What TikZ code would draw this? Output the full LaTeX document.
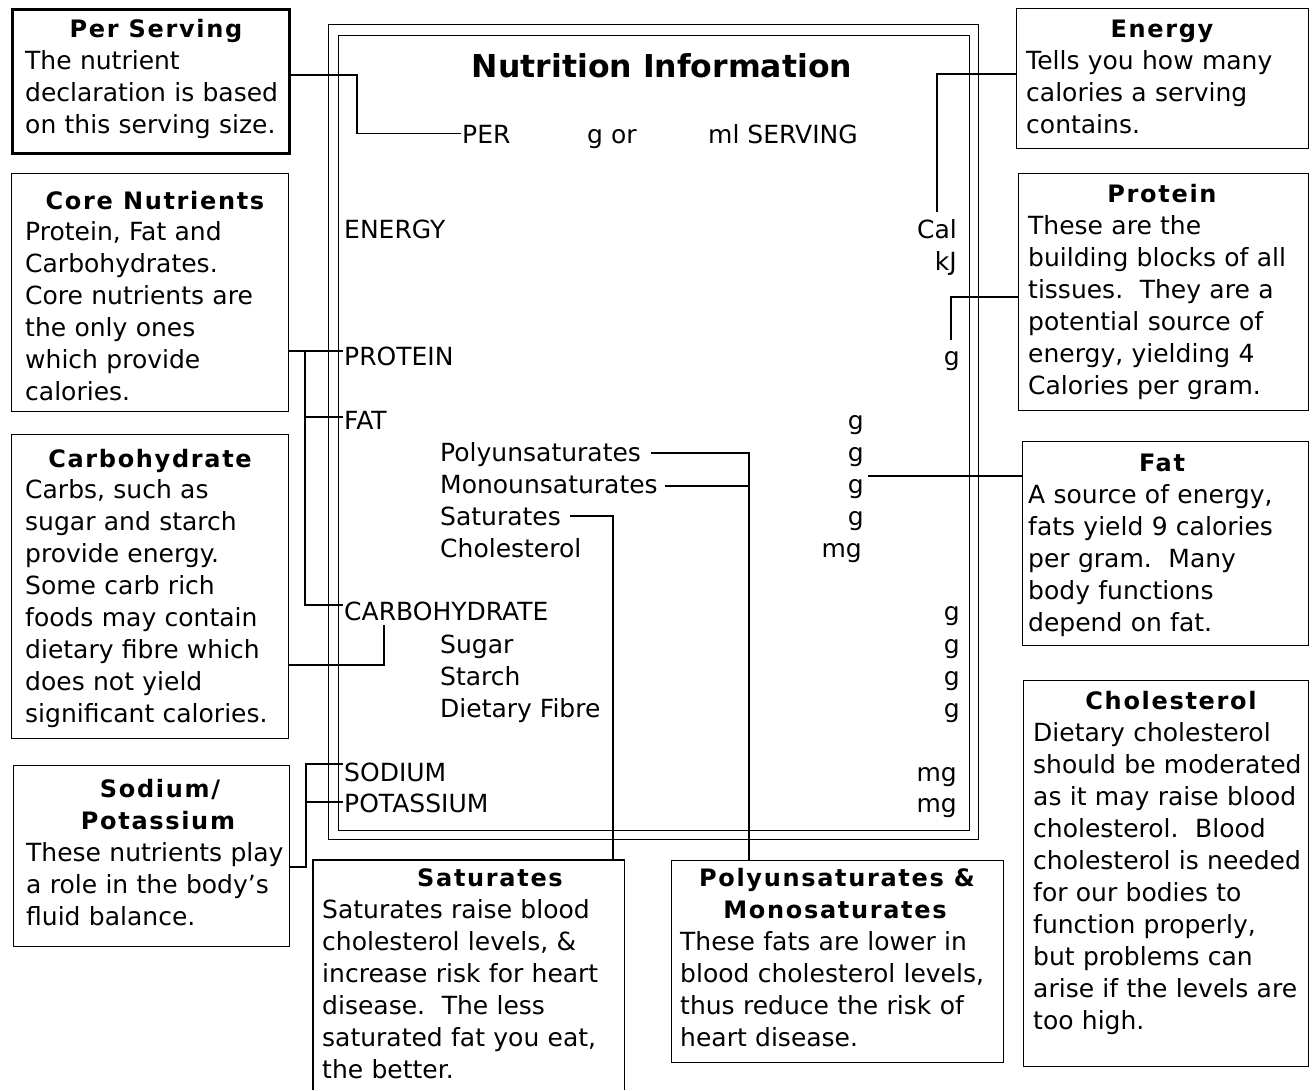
\documentclass[tikz,border=0pt]{standalone}
\usepackage{fontspec}
\setmainfont{DejaVu Sans}
\newfontfamily\headfont[LetterSpace=7]{DejaVu Sans Bold}
\newfontfamily\titlefont{DejaVu Sans Bold}
\begin{document}
\begin{tikzpicture}[x=1pt,y=-1pt,
  box/.style={draw, line width=1.3pt, inner sep=0pt, anchor=north west},
  body/.style={anchor=base west, inner sep=0pt, text width=420pt, align=left, font=\fontsize{25}{32}\selectfont},
  head/.style={anchor=base, inner sep=0pt, font=\headfont\fontsize{24}{32}\selectfont},
  lbl/.style={anchor=base west, inner sep=0pt, font=\fontsize{25}{32}\selectfont},
  val/.style={anchor=base east, inner sep=0pt, font=\fontsize{25}{32}\selectfont},
  conn/.style={line width=1.1pt},
  frame/.style={draw, line width=1.4pt, inner sep=0pt, anchor=north west}]
\useasboundingbox (0,0) rectangle (1314,1090);

% central panel
\node[frame, minimum width=650.5pt, minimum height=815pt] (outer) at (327.5,24) {};
\node[frame, minimum width=631pt, minimum height=795pt] (inner) at (337.5,34.5) {};
\node[anchor=base, inner sep=0pt, font=\titlefont\fontsize{31.5}{36}\selectfont] (title) at (662,77) {Nutrition Information};

\node[lbl] (per) at (462,143) {PER};
\node[lbl] (gor) at (587,143) {g or};
\node[lbl] (ml) at (708,143) {ml SERVING};
\node[lbl] (energy) at (344,238) {ENERGY};
\node[val] (cal) at (957,238) {Cal};
\node[val] (kj) at (957,270) {kJ};
\node[lbl] (protein) at (344,365) {PROTEIN};
\node[val] (pg) at (960,365) {g};
\node[lbl] (fat) at (344,429) {FAT};
\node[val] (fg) at (864,429) {g};
\node[lbl] (poly) at (440,461) {Polyunsaturates};
\node[val] (polyg) at (864,461) {g};
\node[lbl] (mono) at (440,493) {Monounsaturates};
\node[val] (monog) at (864,493) {g};
\node[lbl] (sat) at (440,525) {Saturates};
\node[val] (satg) at (864,525) {g};
\node[lbl] (chol) at (440,557) {Cholesterol};
\node[val] (cholmg) at (862,557) {mg};
\node[lbl] (carb) at (344,620) {CARBOHYDRATE};
\node[val] (carbg) at (960,620) {g};
\node[lbl] (sugar) at (440,653) {Sugar};
\node[val] (sugarg) at (960,653) {g};
\node[lbl] (starch) at (440,685) {Starch};
\node[val] (starchg) at (960,685) {g};
\node[lbl] (fibre) at (440,717) {Dietary Fibre};
\node[val] (fibreg) at (960,717) {g};
\node[lbl] (sodium) at (344,781) {SODIUM};
\node[val] (sodmg) at (957,781) {mg};
\node[lbl] (potassium) at (344,812) {POTASSIUM};
\node[val] (potmg) at (957,812) {mg};

% left boxes
\node[box, line width=2.5pt, minimum width=277pt, minimum height=144pt] (ps) at (11,8) {};
\node[head] (psh) at (156,37) {Per Serving};
\node[body] (pst) at (25,69) {The nutrient\\declaration is based\\on this serving size.};

\node[box, minimum width=277pt, minimum height=238pt] (core) at (11,173) {};
\node[head] (coreh) at (155,209) {Core Nutrients};
\node[body] (coret) at (25,240) {Protein, Fat and\\Carbohydrates.\\Core nutrients are\\the only ones\\which provide\\calories.};

\node[box, minimum width=277pt, minimum height=304pt] (carbbox) at (11,434) {};
\node[head] (carbh) at (150,467) {Carbohydrate};
\node[body] (carbt) at (25,498) {Carbs, such as\\sugar and starch\\provide energy.\\Some carb rich\\foods may contain\\dietary fibre which\\does not yield\\significant calories.};

\node[box, minimum width=276pt, minimum height=181pt] (sodbox) at (13,765) {};
\node[head] (sodh1) at (160,797) {Sodium/};
\node[head] (sodh2) at (158,829) {Potassium};
\node[body] (sodt) at (26,861) {These nutrients play\\a role in the body’s\\fluid balance.};

% bottom boxes
\node[inner sep=0pt, anchor=north west, minimum width=311pt, minimum height=230pt] (satbox) at (313,860) {};
\draw[line width=1.3pt] (satbox.south west) -- (satbox.north west) -- (satbox.north east) -- (satbox.south east);
\node[head] (sath) at (490,886) {Saturates};
\node[body] (satt) at (322,918) {Saturates raise blood\\cholesterol levels, \&\\increase risk for heart\\disease.\ \ The less\\saturated fat you eat,\\the better.};

\node[box, minimum width=332pt, minimum height=202pt] (pmbox) at (671,860) {};
\node[head] (pmh1) at (837,886) {Polyunsaturates \&};
\node[head] (pmh2) at (835,918) {Monosaturates};
\node[body] (pmt) at (680,950) {These fats are lower in\\blood cholesterol levels,\\thus reduce the risk of\\heart disease.};

% right boxes
\node[box, minimum width=292pt, minimum height=140pt] (ebox) at (1016,8) {};
\node[head] (eh) at (1162,37) {Energy};
\node[body] (et) at (1026,69) {Tells you how many\\calories a serving\\contains.};

\node[box, minimum width=290pt, minimum height=237pt] (pbox) at (1018,173) {};
\node[head] (ph) at (1162,202) {Protein};
\node[body] (pt) at (1028,234) {These are the\\building blocks of all\\tissues.\ \ They are a\\potential source of\\energy, yielding 4\\Calories per gram.};

\node[box, minimum width=286pt, minimum height=204pt] (fatbox) at (1022,441) {};
\node[head] (fath) at (1162,471) {Fat};
\node[body] (fatt) at (1028,503) {A source of energy,\\fats yield 9 calories\\per gram.\ \ Many\\body functions\\depend on fat.};

\node[box, minimum width=285pt, minimum height=386pt] (cbox) at (1023,680) {};
\node[head] (ch) at (1171,709) {Cholesterol};
\node[body] (ct) at (1033,741) {Dietary cholesterol\\should be moderated\\as it may raise blood\\cholesterol.\ \ Blood\\cholesterol is needed\\for our bodies to\\function properly,\\but problems can\\arise if the levels are\\too high.};

% connectors
\coordinate (psc) at (357,75);
\draw[conn] (ps.east |- psc) -- (psc) |- ([xshift=-1pt]per.west);

\coordinate (ec) at (937,74);
\coordinate (ee) at (937,212);
\draw[conn] (ebox.west |- ec) -- (ec) -- (ee);

\coordinate (pc) at (951,297);
\coordinate (pe) at (951,340);
\draw[conn] (pbox.west |- pc) -- (pc) -- (pe);

\coordinate (fe) at (868,476);
\draw[conn] (fatbox.west |- fe) -- (fe);

\coordinate (cv) at (305,351);
\coordinate (cv2) at (305,417);
\coordinate (cv3) at (305,605);
\draw[conn] (core.east |- cv) -- ([xshift=-1pt]protein.west |- cv);
\draw[conn] (cv) -- (cv3) -- ([xshift=-1pt]carb.west |- cv3);
\draw[conn] (cv2) -- ([xshift=-1pt]fat.west |- cv2);

\coordinate (kc) at (384,665);
\coordinate (ke) at (384,625);
\draw[conn] (carbbox.east |- kc) -- (kc) -- (ke);

\coordinate (sc) at (306,867);
\coordinate (sc1) at (306,764);
\coordinate (sc2) at (306,802);
\draw[conn] (sodbox.east |- sc) -- (sc) -- (sc1) -- ([xshift=-1pt]sodium.west |- sc1);
\draw[conn] (sc2) -- ([xshift=-1pt]potassium.west |- sc2);

\coordinate (pv) at (749,860);
\coordinate (pv1) at (749,453);
\coordinate (pv2) at (749,486);
\draw[conn] ([xshift=10pt]poly.east |- pv1) -- (pv1) -- (pv);
\draw[conn] ([xshift=7pt]mono.east |- pv2) -- (pv2);

\coordinate (sv) at (613,860);
\coordinate (sv1) at (613,516);
\draw[conn] ([xshift=9pt]sat.east |- sv1) -- (sv1) -- (sv);
\end{tikzpicture}
\end{document}
